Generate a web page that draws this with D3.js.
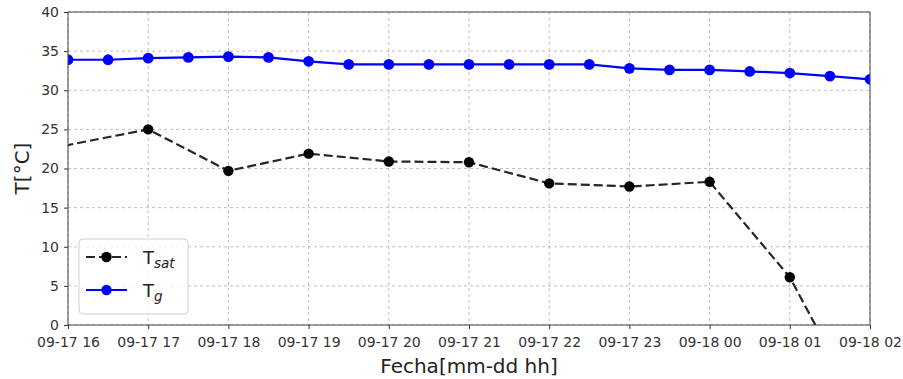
<!DOCTYPE html>
<html><head><meta charset="utf-8">
<script src="https://cdn.jsdelivr.net/npm/d3@7"></script>
<style>body{margin:0;background:#fff}svg{display:block}text{font-family:"DejaVu Sans",sans-serif}</style>
</head><body>
<svg id="c" width="903" height="379"></svg>
<script>
// Data
const tgTimes = ["2019-09-17T16:00","2019-09-17T16:30","2019-09-17T17:00","2019-09-17T17:30","2019-09-17T18:00","2019-09-17T18:30","2019-09-17T19:00","2019-09-17T19:30","2019-09-17T20:00","2019-09-17T20:30","2019-09-17T21:00","2019-09-17T21:30","2019-09-17T22:00","2019-09-17T22:30","2019-09-17T23:00","2019-09-17T23:30","2019-09-18T00:00","2019-09-18T00:30","2019-09-18T01:00","2019-09-18T01:30","2019-09-18T02:00"];
const tgValues = [33.9,33.9,34.1,34.2,34.3,34.2,33.7,33.3,33.3,33.3,33.3,33.3,33.3,33.3,32.8,32.6,32.6,32.4,32.2,31.8,31.4];
const tsatTimes = ["2019-09-17T15:00","2019-09-17T17:00","2019-09-17T18:00","2019-09-17T19:00","2019-09-17T20:00","2019-09-17T21:00","2019-09-17T22:00","2019-09-17T23:00","2019-09-18T00:00","2019-09-18T01:00","2019-09-18T02:00"];
const tsatValues = [21.0,25.0,19.7,21.9,20.9,20.8,18.1,17.7,18.3,6.1,-13.0];
const xTickLabels = ["09-17 16","09-17 17","09-17 18","09-17 19","09-17 20","09-17 21","09-17 22","09-17 23","09-18 00","09-18 01","09-18 02"];
const yTicks = [0,5,10,15,20,25,30,35,40];

const parse = d3.timeParse("%Y-%m-%dT%H:%M");
const svg = d3.select("#c");
const L=68, R=870, T=12, B=325;
const x = d3.scaleTime().domain([parse("2019-09-17T16:00"), parse("2019-09-18T02:00")]).range([L,R]);
const y = d3.scaleLinear().domain([0,40]).range([B,T]);
const xTicks = d3.range(11).map(i => d3.timeHour.offset(parse("2019-09-17T16:00"), i));

svg.append("defs").append("clipPath").attr("id","clip").append("rect")
  .attr("x",L).attr("y",T).attr("width",R-L).attr("height",B-T);

// grid
const grid = svg.append("g");
grid.selectAll(".gx").data(xTicks).join("line")
  .attr("x1",d=>x(d)).attr("x2",d=>x(d)).attr("y1",T).attr("y2",B)
  .attr("stroke","#b0b0b0").attr("stroke-width",0.8).attr("stroke-dasharray","3,3");
grid.selectAll(".gy").data(yTicks).join("line")
  .attr("x1",L).attr("x2",R).attr("y1",d=>y(d)).attr("y2",d=>y(d))
  .attr("stroke","#b0b0b0").attr("stroke-width",0.8).attr("stroke-dasharray","3,3");

// axes
const xa = svg.append("g").attr("transform",`translate(0,${B})`)
  .call(d3.axisBottom(x).tickValues(xTicks).tickFormat((d,i)=>xTickLabels[i]).tickSize(4).tickPadding(8));
const ya = svg.append("g").attr("transform",`translate(${L},0)`)
  .call(d3.axisLeft(y).tickValues(yTicks).tickSize(4).tickPadding(5));
[xa,ya].forEach(a=>{
  a.select(".domain").remove();
  a.selectAll("line").attr("stroke","#333");
  a.selectAll("text").attr("font-size","14px").attr("fill","#333").style("font-family","DejaVu Sans");
});

const plot = svg.append("g").attr("clip-path","url(#clip)");
const tsat = tsatTimes.map((t,i)=>({t:parse(t),v:tsatValues[i]}));
const tg = tgTimes.map((t,i)=>({t:parse(t),v:tgValues[i]}));
const line = d3.line().x(d=>x(d.t)).y(d=>y(d.v));

plot.append("path").datum(tsat).attr("d",line).attr("fill","none")
  .attr("stroke","#262626").attr("stroke-width",2.2).attr("stroke-dasharray","9,4");
plot.selectAll(".ms").data(tsat).join("circle")
  .attr("cx",d=>x(d.t)).attr("cy",d=>y(d.v)).attr("r",5.2).attr("fill","#000");
plot.append("path").datum(tg).attr("d",line).attr("fill","none")
  .attr("stroke","#0000ff").attr("stroke-width",2.2);
plot.selectAll(".mg").data(tg).join("circle")
  .attr("cx",d=>x(d.t)).attr("cy",d=>y(d.v)).attr("r",5.4).attr("fill","#0000ff");

// frame
svg.append("rect").attr("x",L).attr("y",T).attr("width",R-L).attr("height",B-T)
  .attr("fill","none").attr("stroke","#444").attr("stroke-width",1);

// labels
svg.append("text").attr("x",(L+R)/2).attr("y",373).attr("text-anchor","middle")
  .attr("font-size","20px").attr("fill","#222").text("Fecha[mm-dd hh]");
svg.append("text").attr("transform",`translate(29,${(T+B)/2}) rotate(-90)`).attr("text-anchor","middle")
  .attr("font-size","20px").attr("fill","#222").text("T[°C]");

// legend
const lg = svg.append("g");
lg.append("rect").attr("x",79).attr("y",239).attr("width",109).attr("height",75).attr("rx",4)
  .attr("fill","rgba(255,255,255,0.8)").attr("stroke","#d0d0d0").attr("stroke-width",1);
const entries = [{c:"#262626",m:"#000",dash:"9,4",sub:"sat",yy:257},{c:"#0000ff",m:"#0000ff",dash:null,sub:"g",yy:290}];
entries.forEach(e=>{
  lg.append("line").attr("x1",86).attr("x2",127).attr("y1",e.yy).attr("y2",e.yy)
    .attr("stroke",e.c).attr("stroke-width",2.2).attr("stroke-dasharray",e.dash);
  lg.append("circle").attr("cx",106.5).attr("cy",e.yy).attr("r",5.2).attr("fill",e.m);
  const t = lg.append("text").attr("x",143).attr("y",e.yy+6.5).attr("font-size","18px").attr("fill","#222");
  t.append("tspan").text("T");
  t.append("tspan").attr("dy",4).attr("font-size","13.5px").attr("font-style","italic").text(e.sub);
});
</script>
</body></html>
